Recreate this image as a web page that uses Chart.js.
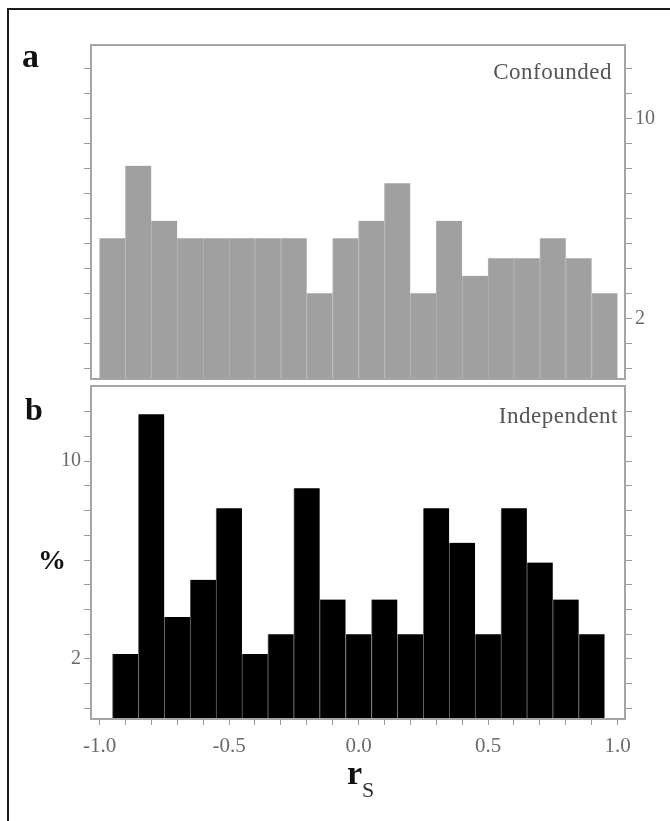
<!DOCTYPE html>
<html>
<head>
<meta charset="utf-8">
<script src="https://cdn.jsdelivr.net/npm/chart.js@4.4.1/dist/chart.umd.min.js"></script>
<style>
  body { margin: 0; background: #fff; }
  #page { position: relative; width: 670px; height: 821px; overflow: hidden; font-family: 'Liberation Serif', serif; }
  #frame { position: absolute; left: 7px; top: 8px; width: 700px; height: 900px; border-left: 2px solid #1b1b1b; border-top: 2px solid #1b1b1b; }
  canvas { position: absolute; left: 0; }
  .lbl { position: absolute; line-height: 1; white-space: nowrap; }
  .panel { font-weight: bold; color: #111; }
  .tag { color: #555; font-size: 23px; letter-spacing: 0.5px; }
</style>
</head>
<body>
<div id="page">
  <div id="frame"></div>
  <canvas id="chartA" width="670" height="400" style="top:0"></canvas>
  <canvas id="chartB" width="670" height="449" style="top:372px"></canvas>

  <div class="lbl panel" style="left:22px; top:39px; font-size:34px;">a</div>
  <div class="lbl panel" style="left:25px; top:393px; font-size:32px;">b</div>
  <div class="lbl panel" style="left:38px; top:546px; font-size:28px;">%</div>
  <div class="lbl tag" style="right:58px; top:60px;">Confounded</div>
  <div class="lbl tag" style="right:52px; top:404px;">Independent</div>
  <div class="lbl panel" style="left:347px; top:756px; font-size:34px;">r</div>
  <div class="lbl" style="left:362px; top:779px; font-size:22px; color:#333;">S</div>
</div>

<script>
'use strict';
// bin centres (r_s) and percentages
const binsA = [-0.95, -0.85, -0.75, -0.65, -0.55, -0.45, -0.35, -0.25, -0.15, -0.05,
               0.05, 0.15, 0.25, 0.35, 0.45, 0.55, 0.65, 0.75, 0.85, 0.95];
const pctA = [5.2, 8.1, 5.9, 5.2, 5.2, 5.2, 5.2, 5.2, 3.0, 5.2,
              5.9, 7.4, 3.0, 5.9, 3.7, 4.4, 4.4, 5.2, 4.4, 3.0];

const binsB = [-0.9, -0.8, -0.7, -0.6, -0.5, -0.4, -0.3, -0.2, -0.1, 0.0,
               0.1, 0.2, 0.3, 0.4, 0.5, 0.6, 0.7, 0.8, 0.9];
const pctB = [2.2, 11.9, 3.7, 5.2, 8.1, 2.2, 3.0, 8.9, 4.4, 3.0,
              4.4, 3.0, 8.1, 6.7, 3.0, 8.1, 5.9, 4.4, 3.0];

const yTicks = [0, 1, 2, 3, 4, 5, 6, 7, 8, 9, 10, 11, 12];
const yLabels = [2, 10];
const xTicks = [-1.0, -0.9, -0.8, -0.7, -0.6, -0.5, -0.4, -0.3, -0.2, -0.1, 0.0,
                0.1, 0.2, 0.3, 0.4, 0.5, 0.6, 0.7, 0.8, 0.9, 1.0];
const xLabels = [-1.0, -0.5, 0.0, 0.5, 1.0];

const serif = 'Liberation Serif';
const tickGray = '#9a9a9a';

// gray frame round each plot area
const framePlugin = {
  id: 'frame',
  afterDatasetsDraw(chart) {
    const ctx = chart.ctx;
    const a = chart.chartArea;
    ctx.save();
    ctx.strokeStyle = '#a5a5a5';
    ctx.lineWidth = 2;
    ctx.strokeRect(a.left - 1, a.top - 1, a.right - a.left + 2, a.bottom - a.top + 2);
    ctx.restore();
  }
};

function yAxis(position, showLabels, min, max) {
  return {
    type: 'linear',
    position: position,
    min: min,
    max: max,
    afterBuildTicks: s => { s.ticks = yTicks.map(v => ({ value: v })); },
    afterFit: s => { s.width = 40; },
    grid: { drawOnChartArea: false, drawTicks: true, tickLength: 8, color: tickGray },
    border: { display: false },
    ticks: {
      autoSkip: false,
      color: '#6a6a6a',
      padding: 3,
      font: { family: serif, size: 20 },
      callback: v => (showLabels && yLabels.includes(v)) ? String(v) : ''
    }
  };
}

function xAxis(show) {
  return {
    type: 'linear',
    display: show,
    min: -1.029,
    max: 1.025,
    offset: false,
    afterBuildTicks: s => { s.ticks = xTicks.map(v => ({ value: v })); },
    afterFit: s => { s.height = show ? 40 : 0; },
    grid: { offset: false, drawOnChartArea: false, tickLength: 7, color: tickGray },
    border: { display: false },
    ticks: {
      autoSkip: false,
      maxRotation: 0,
      color: '#6a6a6a',
      padding: 9,
      font: { family: serif, size: 21 },
      callback: v => xLabels.some(l => Math.abs(l - v) < 1e-6) ? v.toFixed(1) : ''
    }
  };
}

function makePanel(id, bins, pct, fill, sep, yMin, yMax, leftLabels, rightLabels, showX, padding) {
  const ctx = document.getElementById(id).getContext('2d');
  return new Chart(ctx, {
    type: 'bar',
    data: {
      datasets: [{
        data: bins.map((x, i) => ({ x: x, y: pct[i] })),
        backgroundColor: fill,
        borderColor: sep,
        borderWidth: { top: 0, right: 0, bottom: 0, left: 1 },
        base: yMin,
        categoryPercentage: 1.0,
        barPercentage: 1.0,
        yAxisID: 'y'
      }]
    },
    options: {
      responsive: false,
      animation: false,
      devicePixelRatio: 1,
      layout: { padding: padding, autoPadding: false },
      plugins: { legend: { display: false }, tooltip: { enabled: false } },
      scales: {
        x: xAxis(showX),
        y: yAxis('left', leftLabels, yMin, yMax),
        y2: yAxis('right', rightLabels, yMin, yMax)
      }
    },
    plugins: [framePlugin]
  });
}

// panel a: confounded (gray), labels on the right
makePanel('chartA', binsA, pctA, '#a0a0a0', '#b4b4b4', -0.39, 12.89, false, true, false,
  { left: 52, right: 6, top: 46, bottom: 22 });

// panel b: independent (black), labels on the left
makePanel('chartB', binsB, pctB, '#000000', '#6a6a6a', -0.39, 13.0, true, false, true,
  { left: 52, right: 6, top: 6, bottom: 63 });
</script>
</body>
</html>
